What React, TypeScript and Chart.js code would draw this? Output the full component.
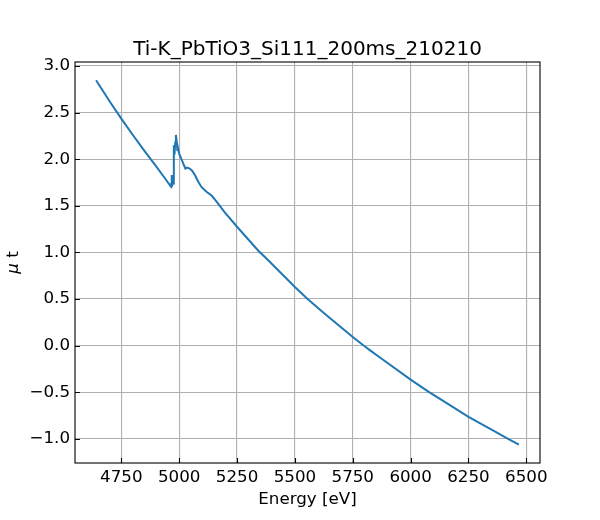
import React, { useEffect, useRef } from "react";
import { Chart, registerables, Plugin } from "chart.js";

Chart.register(...registerables);

// energy [eV] and mu*t
const energy = [
  4641, 4700, 4750, 4800, 4850, 4900, 4940, 4963, 4966, 4968, 4970, 4974,
  4977, 4980, 4983, 4986, 4989, 4992, 4995, 5000, 5010, 5020, 5027, 5035,
  5045, 5055, 5068, 5082, 5097, 5118, 5140, 5160, 5197, 5250, 5343, 5375,
  5500, 5555, 5625, 5750, 5797, 5825, 5875, 6000, 6080, 6125, 6250, 6375,
  6421, 6468,
];
const mu = [
  2.847, 2.62, 2.435, 2.26, 2.09, 1.925, 1.79, 1.71, 1.74, 1.83, 1.72, 1.74,
  2.15, 2.05, 2.18, 2.26, 2.2, 2.1, 2.12, 2.06, 2.0, 1.94, 1.9, 1.91,
  1.9, 1.88, 1.83, 1.76, 1.7, 1.65, 1.61, 1.55, 1.43, 1.275, 1.015, 0.94,
  0.629, 0.5, 0.35, 0.092, 0.0, -0.052, -0.141, -0.365, -0.5, -0.57, -0.765, -0.936,
  -1.0, -1.064,
];

const xTicks = [4750, 5000, 5250, 5500, 5750, 6000, 6250, 6500];
const yTicks = [-1.0, -0.5, 0.0, 0.5, 1.0, 1.5, 2.0, 2.5, 3.0];

const titleText = "Ti-K_PbTiO3_Si111_200ms_210210";
const xLabel = "Energy [eV]";

const FONT = "'DejaVu Sans', sans-serif";

// title, y label, frame and inward ticks in matplotlib style
const decorations: Plugin<"line"> = {
  id: "decorations",
  afterDraw(chart) {
    const { ctx, chartArea } = chart;
    const { left, right, top, bottom } = chartArea;
    const xs = chart.scales.x;
    const ys = chart.scales.y;
    ctx.save();

    ctx.strokeStyle = "#000";
    ctx.lineWidth = 1.1;
    ctx.beginPath();
    xTicks.forEach((v) => {
      const px = Math.round(xs.getPixelForValue(v)) + 0.5;
      ctx.moveTo(px, bottom);
      ctx.lineTo(px, bottom - 4.9);
    });
    yTicks.forEach((v) => {
      const py = Math.round(ys.getPixelForValue(v)) + 0.5;
      ctx.moveTo(left, py);
      ctx.lineTo(left + 4.9, py);
    });
    ctx.stroke();
    ctx.strokeRect(left, top, right - left, bottom - top);

    ctx.fillStyle = "#000";
    ctx.font = `20px ${FONT}`;
    ctx.textAlign = "center";
    ctx.textBaseline = "alphabetic";
    ctx.fillText(titleText, (left + right) / 2, 55);

    // "μ t" with an italic mu
    ctx.translate(18, (top + bottom) / 2);
    ctx.rotate(-Math.PI / 2);
    ctx.textAlign = "left";
    ctx.font = `italic 16.7px ${FONT}`;
    const w1 = ctx.measureText("μ").width;
    ctx.font = `16.7px ${FONT}`;
    const w2 = ctx.measureText(" t").width;
    const start = -(w1 + w2) / 2;
    ctx.font = `italic 16.7px ${FONT}`;
    ctx.fillText("μ", start, 0);
    ctx.font = `16.7px ${FONT}`;
    ctx.fillText(" t", start + w1, 0);

    ctx.restore();
  },
};

const fmtY = (v: number) => v.toFixed(1).replace("-", "\u2212");

const App: React.FC = () => {
  const canvasRef = useRef<HTMLCanvasElement | null>(null);
  const chartRef = useRef<Chart<"line"> | null>(null);

  useEffect(() => {
    if (!canvasRef.current) return;
    const ctx = canvasRef.current.getContext("2d");
    if (!ctx) return;
    if (chartRef.current) chartRef.current.destroy();

    chartRef.current = new Chart(ctx, {
      type: "line",
      data: {
        datasets: [
          {
            data: energy.map((e, i) => ({ x: e, y: mu[i] })),
            borderColor: "#1f77b4",
            borderWidth: 2,
            pointRadius: 0,
            tension: 0,
            fill: false,
          },
        ],
      },
      options: {
        responsive: false,
        animation: false,
        layout: { padding: { top: 62, right: 60, left: 0, bottom: 0 } },
        plugins: {
          legend: { display: false },
          tooltip: { enabled: false },
          title: { display: false },
        },
        scales: {
          x: {
            type: "linear",
            min: 4550,
            max: 6559,
            afterBuildTicks: (scale) => {
              scale.ticks = xTicks.map((v) => ({ value: v }));
            },
            afterFit: (scale) => {
              scale.height = 57;
            },
            grid: { color: "#b0b0b0", lineWidth: 1.1, drawTicks: false },
            border: { display: false },
            ticks: {
              color: "#000",
              padding: 5,
              maxRotation: 0,
              font: { family: FONT, size: 16.7 },
              callback: (v) => String(v),
            },
            title: {
              display: true,
              text: xLabel,
              color: "#000",
              font: { family: FONT, size: 16.7 },
              padding: { top: 0, bottom: 10 },
            },
          },
          y: {
            type: "linear",
            min: -1.26,
            max: 3.043,
            afterBuildTicks: (scale) => {
              scale.ticks = yTicks.map((v) => ({ value: v }));
            },
            afterFit: (scale) => {
              scale.width = 75;
            },
            grid: { color: "#b0b0b0", lineWidth: 1.1, drawTicks: false },
            border: { display: false },
            ticks: {
              color: "#000",
              padding: 5,
              font: { family: FONT, size: 16.7 },
              callback: (v) => fmtY(Number(v)),
            },
          },
        },
      },
      plugins: [decorations],
    });

    return () => {
      if (chartRef.current) {
        chartRef.current.destroy();
        chartRef.current = null;
      }
    };
  }, []);

  return (
    <div style={{ position: "absolute", left: 0, top: 0, width: 600, height: 520, background: "#fff" }}>
      <canvas ref={canvasRef} width={600} height={520}></canvas>
    </div>
  );
};

export default App;
